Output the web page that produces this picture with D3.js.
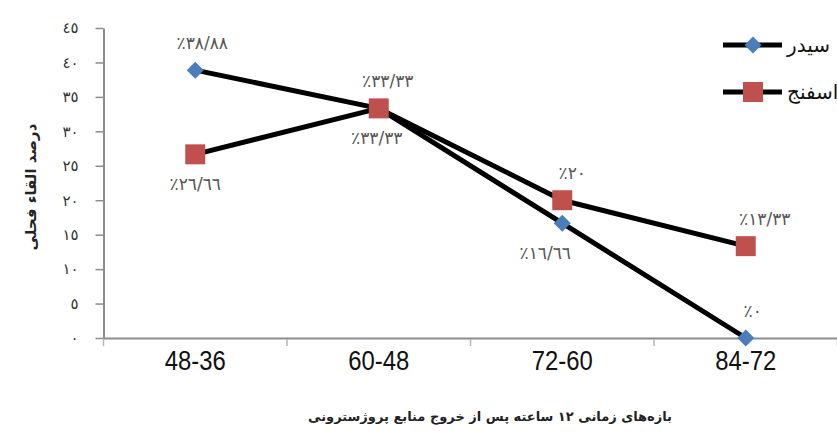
<!DOCTYPE html>
<html>
<head>
<meta charset="utf-8">
<script src="https://cdn.jsdelivr.net/npm/d3@7"></script>
<style>
  body { margin: 0; background: #fff; }
  svg { display: block; }
</style>
</head>
<body>
<svg id="chart" width="837" height="432"></svg>
<script>
// Time windows (hours after progesterone source removal)
const categories = ["48-36", "60-48", "72-60", "84-72"];
const seriesNames = ["سیدر", "اسفنج"];
// Percent of fertile mating per window
const cidrValues = [38.88, 33.33, 16.66, 0];
const spongeValues = [26.66, 33.33, 20, 13.33];
const yTicks = [0, 5, 10, 15, 20, 25, 30, 35, 40, 45];
const xTitle = "بازه‌های زمانی ۱۲ ساعته پس از خروج منابع پروژسترونی";
const yTitle = "درصد القاء فحلی";

// Where each value label sits relative to its marker
const cidrLabelSide = ["above", "above", "below", "above"];
const spongeLabelSide = ["below", "below", "above", "above"];
const cidrLabelDx = [7, 9, -17, 7];
const spongeLabelDx = [0, -2, 10, 19];

const W = 837, H = 432;
const svg = d3.select("#chart");
svg.append("rect").attr("width", W).attr("height", H).attr("fill", "#fff");

const x = d3.scaleBand().domain(categories).range([103.5, 837.5]).padding(0);
const y = d3.scaleLinear().domain([0, 45]).range([338, 28]);
const cx = c => x(c) + x.bandwidth() / 2;

// Arabic-Indic digits, "/" as decimal separator
const arDigits = "٠١٢٣٤٥٦٧٨٩";
const toAr = s => String(s).replace(/[0-9]/g, d => arDigits[+d]);
const fmtPct = v => "٪" + toAr(v.toFixed(2).replace(/\.00$/, "").replace(".", "/"));

const arabicFont = "'DejaVu Sans', sans-serif";

// Y axis
const yAxis = d3.axisLeft(y).tickValues(yTicks).tickSizeInner(8).tickSizeOuter(0)
  .tickPadding(17).tickFormat(d => toAr(d));
const gy = svg.append("g").attr("transform", "translate(103.5,0)").call(yAxis);
gy.select(".domain").attr("stroke", "#8c8c8c").attr("stroke-width", 2);
gy.selectAll(".tick line").attr("stroke", "#8c8c8c").attr("stroke-width", 1.5);
gy.selectAll(".tick text").attr("fill", "#333").attr("font-size", 15)
  .attr("font-family", arabicFont);

// X axis: labels centred in each band, tick marks at band edges
const xAxis = d3.axisBottom(x).tickSize(0).tickPadding(12);
const gx = svg.append("g").attr("transform", "translate(0,338)").call(xAxis);
gx.select(".domain").attr("stroke", "#8c8c8c").attr("stroke-width", 2);
gx.selectAll(".tick text").attr("fill", "#111").attr("font-size", 28)
  .attr("font-family", "'Liberation Sans', Arial, sans-serif")
  .attr("textLength", 61).attr("lengthAdjust", "spacingAndGlyphs");
svg.append("g").selectAll("line").data([null, ...categories]).join("line")
  .attr("x1", d => d === null ? x.range()[0] : x(d) + x.bandwidth())
  .attr("x2", d => d === null ? x.range()[0] : x(d) + x.bandwidth())
  .attr("y1", 339).attr("y2", 346)
  .attr("stroke", "#b5b5b5").attr("stroke-width", 1.5);

// Axis titles
svg.append("text").attr("x", 490).attr("y", 421).attr("text-anchor", "middle")
  .attr("font-family", arabicFont).attr("font-weight", "bold").attr("font-size", 13)
  .attr("fill", "#222").text(xTitle);
svg.append("text").attr("transform", "translate(36,187) rotate(-90)")
  .attr("text-anchor", "middle").attr("font-family", arabicFont)
  .attr("font-weight", "bold").attr("font-size", 15).attr("fill", "#222").text(yTitle);

const line = d3.line().x((d, i) => cx(categories[i])).y(d => y(d));
const diamondPath = "M0,-8.5L8.5,0L0,8.5L-8.5,0Z";
const squarePath = "M-10,-10H10V10H-10Z";

const series = [
  { name: seriesNames[0], values: cidrValues, marker: diamondPath, fill: "#4a7ebb",
    side: cidrLabelSide, dx: cidrLabelDx },
  { name: seriesNames[1], values: spongeValues, marker: squarePath, fill: "#c0504d",
    side: spongeLabelSide, dx: spongeLabelDx }
];

series.forEach(s => {
  svg.append("path").datum(s.values).attr("d", line).attr("fill", "none")
    .attr("stroke", "#000").attr("stroke-width", 5).attr("stroke-linejoin", "round");
  svg.append("g").selectAll("path").data(s.values).join("path")
    .attr("d", s.marker).attr("fill", s.fill)
    .attr("transform", (d, i) => `translate(${cx(categories[i])},${y(d)})`);
});

// Value labels
series.forEach(s => {
  svg.append("g").selectAll("text").data(s.values).join("text")
    .attr("x", (d, i) => cx(categories[i]) + s.dx[i])
    .attr("y", (d, i) => y(d) + (s.side[i] === "above" ? -21 : 36))
    .attr("text-anchor", "middle")
    .style("direction", "ltr").style("unicode-bidi", "bidi-override")
    .attr("font-family", arabicFont).attr("font-size", 17).attr("letter-spacing", 2.5)
    .attr("fill", "#555")
    .text(d => fmtPct(d));
});

// Legend
const legY = [45, 92];
series.forEach((s, i) => {
  const g = svg.append("g").attr("transform", `translate(0,${legY[i]})`);
  g.append("line").attr("x1", 723).attr("x2", 782).attr("y1", 0).attr("y2", 0)
    .attr("stroke", "#000").attr("stroke-width", 5);
  g.append("path").attr("d", s.marker).attr("fill", s.fill)
    .attr("transform", "translate(753,0)");
  g.append("text").attr("x", 787).attr("y", 7).attr("font-family", arabicFont)
    .attr("font-size", 20).attr("fill", "#111").text(s.name);
});
</script>
</body>
</html>
